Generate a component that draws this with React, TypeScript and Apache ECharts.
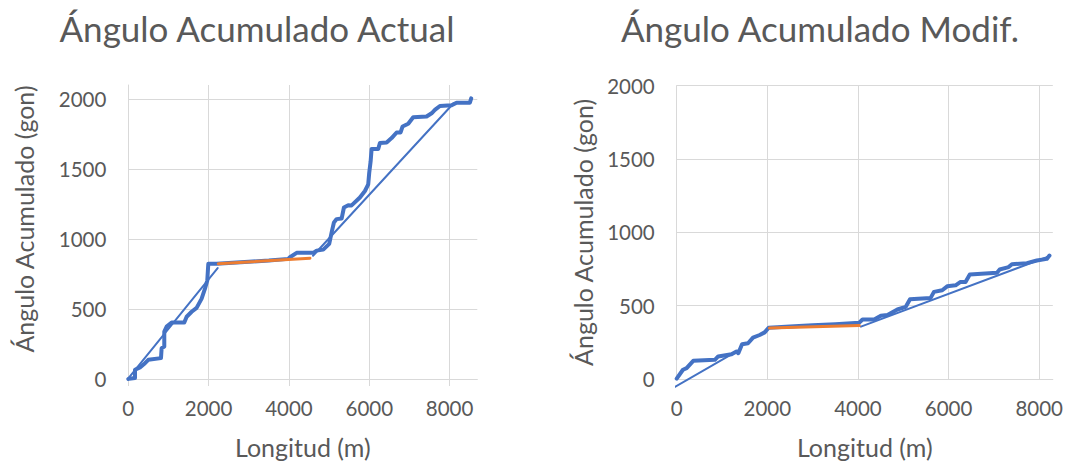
import React, { useEffect, useRef } from 'react';
import * as echarts from 'echarts';

const FONT = 'Lato, "Open Sans", sans-serif';
const TEXT = '#595959';
const GRID = '#d9d9d9';
const BLUE = '#4472C4';
const ORANGE = '#ED7D31';

const titles = ['Ángulo Acumulado Actual', 'Ángulo Acumulado Modif.'];
const xAxisName = 'Longitud (m)';
const yAxisName = 'Ángulo Acumulado (gon)';
const xTicks = [0, 2000, 4000, 6000, 8000];
const yTicks = [0, 500, 1000, 1500, 2000];

// Chart 1: Ángulo Acumulado Actual
const actualLine: number[][] = [
  [0, 0], [17, 2], [167, 7], [167, 66], [291, 83], [416, 113], [498, 137], [814, 149],
  [830, 220], [896, 232], [896, 338], [955, 374], [1079, 404], [1394, 404], [1453, 445],
  [1577, 480], [1701, 508], [1826, 574], [1909, 645], [1967, 704], [1992, 823], [2200, 823],
  [2600, 830], [3000, 838], [3500, 846], [3983, 858], [4025, 870], [4191, 901], [4605, 901],
  [4689, 917], [4854, 924], [5003, 965], [5063, 1047], [5120, 1118], [5187, 1142], [5312, 1146],
  [5369, 1225], [5476, 1241], [5560, 1240], [5767, 1296], [5892, 1343], [5974, 1390],
  [5999, 1473], [6034, 1555], [6058, 1643], [6223, 1643], [6265, 1686], [6432, 1690],
  [6556, 1721], [6681, 1761], [6780, 1761], [6830, 1804], [6970, 1823], [7094, 1870],
  [7427, 1875], [7552, 1898], [7634, 1922], [7759, 1950], [8050, 1955], [8174, 1974],
  [8505, 1974], [8538, 2005],
];
const actualTrend1: number[][] = [[0, 5], [2225, 792]];
const actualTrend2: number[][] = [[2240, 823], [4523, 863]];
const actualTrend3: number[][] = [[4600, 880], [8100, 1970]];

// Chart 2: Ángulo Acumulado Modif.
const modifLine: number[][] = [
  [0, 3], [138, 63], [219, 74], [365, 124], [842, 131], [915, 154], [1209, 169],
  [1319, 188], [1360, 176], [1442, 237], [1574, 244], [1684, 282], [1831, 300], [1941, 318],
  [2029, 350], [2500, 358], [3000, 366], [3500, 374], [4029, 384], [4101, 406], [4358, 406],
  [4505, 431], [4651, 436], [4870, 474], [5055, 492], [5149, 544], [5604, 553], [5677, 594],
  [5859, 605], [5969, 632], [6154, 639], [6264, 662], [6374, 662], [6468, 713], [7068, 725],
  [7127, 747], [7325, 763], [7398, 783], [7727, 790], [7947, 808], [8167, 819], [8226, 842],
];
const modifTrend1: number[][] = [[-53, -56], [1400, 202]];
const modifTrend2: number[][] = [[2046, 347], [4029, 364]];
const modifTrend3: number[][] = [[4066, 357], [8167, 831]];

const xMax = [8690, 8300];
const yMax = [2100, 2000];

function makeXAxis(i: number, ticks: boolean) {
  return {
    type: 'value',
    gridIndex: i,
    min: 0,
    max: xMax[i],
    name: xAxisName,
    nameLocation: 'middle',
    nameGap: 55,
    nameTextStyle: { color: TEXT, fontFamily: FONT, fontSize: 25 },
    axisLine: { show: true, onZero: true, lineStyle: { color: GRID, width: 1 } },
    axisTick: { show: ticks, length: 7, customValues: xTicks, lineStyle: { color: GRID } },
    axisLabel: {
      customValues: xTicks,
      color: TEXT, fontFamily: FONT, fontSize: 20.5, margin: 18,
      formatter: (v: number) => String(v),
    },
    splitLine: { show: true, lineStyle: { color: GRID, width: 1 } },
  };
}

function makeYAxis(i: number, shift: number) {
  return {
    type: 'value',
    gridIndex: i,
    min: 0,
    max: yMax[i],
    name: yAxisName,
    nameLocation: 'middle',
    nameGap: i === 0 ? 92 : 81,
    nameTextStyle: {
      color: TEXT, fontFamily: FONT, fontSize: 25,
      padding: shift ? [0, 0, 0, shift] : 0,
    },
    axisLine: { show: true, lineStyle: { color: GRID, width: 1 } },
    axisTick: { show: false, customValues: yTicks },
    axisLabel: {
      customValues: yTicks,
      color: TEXT, fontFamily: FONT, fontSize: 20.5, margin: 22,
      formatter: (v: number) => String(v),
    },
    splitLine: { show: true, lineStyle: { color: GRID, width: 1 } },
  };
}

function lineSeries(data: number[][], idx: number, color: string, width: number, clip = true) {
  return {
    type: 'line',
    xAxisIndex: idx,
    yAxisIndex: idx,
    data,
    showSymbol: false,
    symbol: 'none',
    clip,
    lineStyle: { color, width, cap: 'round', join: 'round' },
    silent: true,
  };
}

export default function App() {
  const ref = useRef<HTMLDivElement>(null);
  useEffect(() => {
    if (!ref.current) return;
    const chart = echarts.init(ref.current, undefined, { renderer: 'svg' });
    chart.setOption({
      animation: false,
      backgroundColor: '#ffffff',
      grid: [
        { left: 128.3, top: 85, width: 349, height: 296 },
        { left: 676.7, top: 85.7, width: 377.3, height: 295.3 },
      ],
      xAxis: [makeXAxis(0, true), makeXAxis(1, false)],
      yAxis: [makeYAxis(0, 26), makeYAxis(1, 0)],
      graphic: [
        {
          type: 'text', x: 257, y: 10,
          style: { text: titles[0], fill: TEXT, fontFamily: FONT, fontSize: 35, textAlign: 'center', textVerticalAlign: 'top' },
        },
        {
          type: 'text', x: 820, y: 10,
          style: { text: titles[1], fill: TEXT, fontFamily: FONT, fontSize: 35, textAlign: 'center', textVerticalAlign: 'top' },
        },
      ],
      series: [
        lineSeries(actualLine, 0, BLUE, 4),
        lineSeries(actualTrend1, 0, BLUE, 2),
        lineSeries(actualTrend3, 0, BLUE, 2),
        lineSeries(actualTrend2, 0, ORANGE, 3),
        lineSeries(modifLine, 1, BLUE, 4),
        lineSeries(modifTrend1, 1, BLUE, 2, false),
        lineSeries(modifTrend3, 1, BLUE, 2),
        lineSeries(modifTrend2, 1, ORANGE, 3),
      ],
    });
    return () => chart.dispose();
  }, []);
  return (
    <div
      ref={ref}
      style={{ position: 'fixed', left: 0, top: 0, width: 1066, height: 464, background: '#fff' }}
    />
  );
}
